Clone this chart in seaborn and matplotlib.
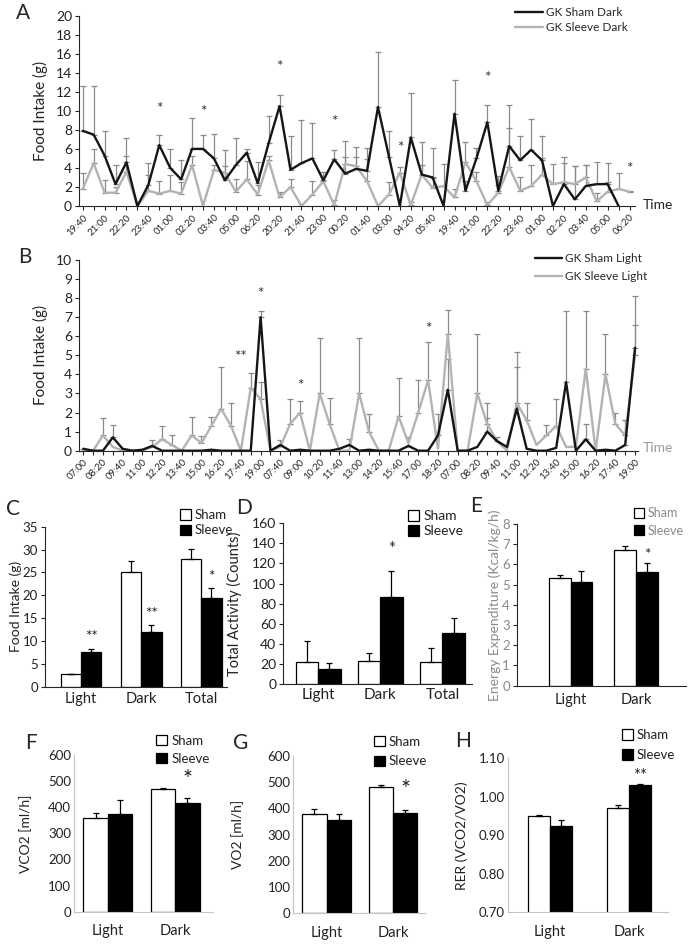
import numpy as np
import pandas as pd
import matplotlib
matplotlib.use("Agg")
import matplotlib.pyplot as plt
import seaborn as sns

nan = np.nan

# === Panel A: dark-phase food intake ===
a_labels = ["19:40", "21:00", "22:20", "23:40", "01:00", "02:20", "03:40", "05:00", "06:20",
            "20:20", "21:40", "23:00", "00:20", "01:40", "03:00", "04:20", "05:40",
            "19:40", "21:00", "22:20", "23:40", "01:00", "02:20", "03:40", "05:00", "06:20"]
a_sham = [7.9, 7.5, 5.3, 2.3, 4.6, 0, 2.2, 6.4, 4.0, 2.8, 6.0, 6.0, 5.0, 2.7, 4.3, 5.6, 2.4,
          6.6, 10.5, 3.8, 4.5, 5.0, 2.7, 4.9, 3.4, 3.9, 3.7, 10.4, 5.2, 0, 7.2, 3.3, 3.0, 0,
          9.7, 1.6, 5.0, 8.8, 1.6, 6.3, 4.8, 5.9, 4.8, 0, 2.3, 0.7, 2.1, 2.3, 2.3, 0, nan]
a_sham_err = [4.7, 5.1, 2.6, 2.0, 2.5, 0, 2.3, 1.1, 2.0, 2.0, 3.2, 1.5, 2.6, 3.2, 2.8, 0.4, 2.2,
              2.9, 1.2, 3.6, 4.5, 3.7, 0.9, 1.0, 3.4, 2.3, 2.4, 5.8, 2.7, 0, 4.7, 3.4, 3.1, 0,
              3.5, 1.0, 1.1, 1.8, 1.6, 4.3, 2.6, 3.2, 2.6, 0, 2.9, 3.5, 2.2, 2.3, 2.2, 0, nan]
a_sleeve = [1.8, 4.5, 1.4, 1.4, 3.6, 0, 1.6, 1.3, 1.6, 1.3, 4.3, 0, 3.8, 3.5, 1.5, 2.8, 1.2,
            4.8, 0.9, 2.0, 0, 1.2, 2.6, 0.1, 4.4, 4.2, 2.6, 0, 1.2, 3.5, 0.1, 3.3, 1.9, 2.1,
            0.9, 4.6, 2.6, 0.1, 1.4, 4.1, 1.6, 2.1, 3.3, 2.3, 2.5, 2.3, 3.0, 0.5, 1.5, 1.8, 1.5]
a_sleeve_err = [1.7, 1.5, 1.3, 0.6, 1.7, 0, 1.7, 1.3, 1.7, 1.2, 1.0, 0, 0.5, 0.7, 1.3, 1.9, 1.0,
                0.5, 0.6, 0.8, 0, 1.4, 1.0, 0.5, 0.7, 0.9, 2.3, 0, 1.3, 0.6, 0.3, 1.0, 1.0, 2.3,
                0.9, 2.1, 1.0, 0.3, 0.8, 4.1, 1.4, 2.2, 1.7, 2.1, 2.0, 1.9, 1.3, 0.9, 1.0, 1.7, 0.1]
a_star_idx = [7, 11, 18, 23, 29, 37, 50]
a_star_y = [10.2, 9.9, 14.6, 8.8, 6.1, 13.4, 3.9]

# === Panel B: light-phase food intake ===
b_labels = ["07:00", "08:20", "09:40", "11:00", "12:20", "13:40", "15:00", "16:20", "17:40", "19:00",
            "07:40", "09:00", "10:20", "11:40", "13:00", "14:20", "15:40", "17:00", "18:20",
            "07:00", "08:20", "09:40", "11:00", "12:20", "13:40", "15:00", "16:20", "17:40", "19:00"]
b_sham = [0.1, 0, 0, 0.7, 0.1, 0, 0.05, 0.25, 0, 0, 0, 0, 0, 0.05, 0, 0, 0, 0, 7.0, 0,
          0.3, 0, 0.05, 0, 0, 0, 0.1, 0.3, 0, 0.05, 0, 0, 0, 0.25, 0, 0, 0.8, 3.2, 0, 0,
          0.2, 1.0, 0.5, 0.2, 2.2, 0.1, 0, 0, 0.15, 3.6, 0, 0.6, 0, 0.05, 0, 0.3, 5.4]
b_sham_err = [0, 0, 0, 0.65, 0, 0, 0, 0.3, 0, 0, 0, 0, 0, 0, 0, 0, 0, 0, 0.3, 0,
              0.25, 0, 0, 0, 0, 0, 0, 0.3, 0, 0, 0, 0, 0, 0.45, 0, 0, 1.1, 1.6, 0, 0,
              0, 0.7, 0.2, 0, 2.2, 0, 0, 0, 0, 3.7, 0, 0.8, 0, 0, 0, 1.3, 1.2]
b_sleeve = [0, 0, 0.8, 0.2, 0, 0, 0, 0.2, 0.6, 0.3, 0, 0.8, 0.4, 1.3, 2.2, 1.3, 0, 3.3, 2.7, 0,
            0.2, 1.4, 2.0, 0, 3.0, 1.4, 0, 0, 3.0, 1.0, 0, 0, 1.8, 0.4, 2.0, 3.7, 0.1, 6.1, 0, 0,
            3.0, 1.4, 0.5, 0, 2.5, 1.6, 0.3, 0.8, 1.3, 0.2, 0.2, 4.3, 0, 4.0, 1.4, 0.8, 5.0]
b_sleeve_err = [0.1, 0, 0.9, 0, 0, 0, 0, 0, 0.7, 0.5, 0, 0.95, 0.35, 0.45, 2.2, 1.2, 0, 0.8, 0.9, 0,
                0, 1.3, 0.6, 0, 2.9, 1.35, 0, 0, 2.9, 0.9, 0, 0, 2.0, 0, 1.7, 2.0, 0, 1.3, 0, 0,
                3.1, 1.1, 0, 0, 2.7, 0.9, 0, 0.55, 1.4, 0, 0, 3.0, 0, 2.1, 0.6, 0.8, 3.1]
b_star_idx = [16, 18, 22, 35]
b_star_txt = ["**", "*", "*", "*"]
b_star_y = [4.9, 8.2, 3.4, 6.4]

# === Bar panels C-H ===
c_cats = ["Light", "Dark", "Total"]
c_sham, c_sham_err = [2.7, 25.2, 27.9], [0.1, 2.4, 2.2]
c_sleeve, c_sleeve_err = [7.5, 12.0, 19.5], [0.8, 1.6, 2.1]
c_stars, c_star_y = ["**", "**", "*"], [10.9, 16.0, 24.1]

d_cats = ["Light", "Dark", "Total"]
d_sham, d_sham_err = [21.6, 22.9, 22.2], [20.9, 8.3, 14.0]
d_sleeve, d_sleeve_err = [14.9, 87.0, 51.1], [6.3, 25.9, 14.3]
d_stars, d_star_y = ["", "*", ""], [0, 134, 0]

e_cats = ["Light", "Dark"]
e_sham, e_sham_err = [5.31, 6.72], [0.17, 0.21]
e_sleeve, e_sleeve_err = [5.12, 5.63], [0.56, 0.43]
e_stars, e_star_y = ["", "*"], [0, 6.47]

f_cats = ["Light", "Dark"]
f_sham, f_sham_err = [360, 470], [18, 5]
f_sleeve, f_sleeve_err = [374, 415], [54, 19]
f_stars, f_star_y = ["", "*"], [0, 508]

g_cats = ["Light", "Dark"]
g_sham, g_sham_err = [377, 483], [19, 6]
g_sleeve, g_sleeve_err = [356, 381], [21, 13]
g_stars, g_star_y = ["", "*"], [0, 473]

h_cats = ["Light", "Dark"]
h_sham, h_sham_err = [0.950, 0.972], [0.003, 0.008]
h_sleeve, h_sleeve_err = [0.923, 1.031], [0.016, 0.003]
h_stars, h_star_y = ["", "**"], [0, 1.054]

sns.set_theme(style="ticks")
plt.rcParams["font.family"] = ["Lato", "DejaVu Sans"]
plt.rcParams["axes.linewidth"] = 0.8

W, H = 688, 944
fig = plt.figure(figsize=(W / 100, H / 100), dpi=100)


def add_ax(l, r, t, b):
    return fig.add_axes([l / W, 1 - b / H, (r - l) / W, (b - t) / H])


def letter(txt, x, y):
    fig.text(x / W, 1 - y / H, txt, fontsize=15, va="top", ha="left")


def line_panel(ax, sham, sham_err, sleeve, sleeve_err, labels, names, ymax, ystep, xlim):
    n = len(sham)
    x = np.arange(n)
    for vals, errs in [(sleeve, sleeve_err), (sham, sham_err)]:
        v = np.array(vals, float)
        e = np.array(errs, float)
        m = np.nan_to_num(e) > 0
        ax.errorbar(x[m], v[m], yerr=[np.zeros(m.sum()), e[m]], fmt="none",
                    ecolor="#8a8a8a", elinewidth=0.9, capsize=2, capthick=0.9, zorder=1)
    sns.lineplot(x=x, y=np.array(sleeve, float), ax=ax, color="#b3b3b3", lw=1.7,
                 label=names[1], zorder=2)
    sns.lineplot(x=x, y=np.array(sham, float), ax=ax, color="#151515", lw=1.7,
                 label=names[0], zorder=3)
    ax.set_xlim(*xlim)
    ax.set_ylim(0, ymax)
    ax.set_yticks(np.arange(0, ymax + 0.01, ystep))
    ax.tick_params(axis="y", labelsize=10, length=3, width=0.8, pad=2, labelcolor="#222222")
    ax.set_xticks(np.arange(0, n, 2))
    ax.set_xticklabels(labels, rotation=45, ha="right", rotation_mode="anchor", fontsize=7,
                       color="#222222")
    ax.set_xticks(np.arange(n), minor=True)
    ax.tick_params(axis="x", which="both", length=3, width=0.8, pad=2)
    ax.set_xlabel("")
    ax.set_ylabel("Food Intake (g)", fontsize=11, color="#222222")
    ax.yaxis.set_label_coords(-0.056, 0.5)
    sns.despine(ax=ax)


def bar_panel(ax, cats, sham, sham_err, sleeve, sleeve_err, width, xlim, ylim, ystep,
              stars, star_y, star_size, ylabel, label_x, leg_xy, leg_sp, fs=10,
              gray_axes=False, fmt=None, text_col="#222222", xpad=4, leg_fs=None):
    df = pd.DataFrame({
        "cat": cats + cats,
        "group": ["Sham"] * len(cats) + ["Sleeve"] * len(cats),
        "val": sham + sleeve,
    })
    sns.barplot(data=df, x="cat", y="val", hue="group", order=cats,
                palette={"Sham": "white", "Sleeve": "black"}, edgecolor="black",
                linewidth=0.9, width=width, errorbar=None, ax=ax, zorder=2)
    for cont, errs in zip(ax.containers, [sham_err, sleeve_err]):
        xs = [p.get_x() + p.get_width() / 2 for p in cont]
        hs = [p.get_height() for p in cont]
        ax.errorbar(xs, hs, yerr=[np.zeros(len(errs)), errs], fmt="none", ecolor="black",
                    elinewidth=0.9, capsize=2.5, capthick=0.9, zorder=3)
    sl = ax.containers[1]
    for p, s, y in zip(sl, stars, star_y):
        if s:
            ax.text(p.get_x() + p.get_width() / 2, y, s, ha="center", va="center",
                    fontsize=star_size, color="#222222")
    ax.set_xlim(*xlim)
    ax.set_ylim(*ylim)
    ax.set_yticks(np.arange(ylim[0], ylim[1] + ystep / 100, ystep))
    if fmt:
        ax.set_yticklabels([fmt % t for t in ax.get_yticks()])
    ax.set_xlabel("")
    ax.set_ylabel(ylabel, fontsize=fs + 0.5, color=text_col)
    ax.yaxis.set_label_coords(label_x, 0.5)
    ax.tick_params(axis="x", length=0, labelsize=fs + 1, pad=xpad, labelcolor="#222222")
    ax.tick_params(axis="y", labelsize=fs, labelcolor=text_col, pad=2)
    sns.despine(ax=ax)
    if gray_axes:
        for sp in ["left", "bottom"]:
            ax.spines[sp].set_color("#c4c4c4")
        ax.tick_params(axis="y", length=0)
    else:
        ax.tick_params(axis="y", length=3, width=0.8)
    h, l = ax.get_legend_handles_labels()
    leg = ax.legend(h, l, loc="upper left", bbox_to_anchor=leg_xy, frameon=False,
                    fontsize=leg_fs or fs, handlelength=0.85, handleheight=0.85,
                    handletextpad=0.3, labelspacing=leg_sp, borderpad=0, borderaxespad=0)
    for t in leg.get_texts():
        t.set_color(text_col)


# --- A ---
axA = add_ax(79, 635, 15.7, 206)
line_panel(axA, a_sham, a_sham_err, a_sleeve, a_sleeve_err, a_labels,
           ["GK Sham Dark", "GK Sleeve Dark"], 20, 2, (-0.34, 50.5))
for i, y in zip(a_star_idx, a_star_y):
    axA.text(i, y, "*", ha="center", va="center", fontsize=11, color="#333333")
h, l = axA.get_legend_handles_labels()
axA.legend(h[::-1], l[::-1], loc="upper left", bbox_to_anchor=(0.785, 1.045), frameon=False,
           fontsize=8.5, handlelength=2.3, handletextpad=0.25, labelspacing=0.35,
           borderpad=0, borderaxespad=0)
fig.text(643 / W, 1 - 205 / H, "Time", fontsize=10, va="center", color="#222222")
letter("A", 16, 3)

# --- B ---
axB = add_ax(79, 638, 260, 450.7)
line_panel(axB, b_sham, b_sham_err, b_sleeve, b_sleeve_err, b_labels,
           ["GK Sham Light", "GK Sleeve Light"], 10, 1, (-0.43, 56.3))
for i, s, y in zip(b_star_idx, b_star_txt, b_star_y):
    axB.text(i, y, s, ha="center", va="center", fontsize=11, color="#333333")
h, l = axB.get_legend_handles_labels()
axB.legend(h[::-1], l[::-1], loc="upper left", bbox_to_anchor=(0.815, 1.035), frameon=False,
           fontsize=8.5, handlelength=2.3, handletextpad=0.25, labelspacing=0.55,
           borderpad=0, borderaxespad=0)
fig.text(643 / W, 1 - 448 / H, "Time", fontsize=10, va="center", color="#9a9a9a")
letter("B", 18, 247)

# --- C ---
axC = add_ax(45, 227, 526.7, 686.7)
bar_panel(axC, c_cats, c_sham, c_sham_err, c_sleeve, c_sleeve_err, 0.68, (-0.6, 2.43),
          (0, 35), 5, c_stars, c_star_y, 11, "Food Intake (g)", -0.125, (0.74, 1.11), 0.25,
          fs=9.5, xpad=4)
axC.yaxis.label.set_size(10)
letter("C", 6, 499)

# --- D ---
axD = add_ax(283.3, 471.7, 523.3, 684)
bar_panel(axD, d_cats, d_sham, d_sham_err, d_sleeve, d_sleeve_err, 0.72, (-0.56, 2.47),
          (0, 160), 20, d_stars, d_star_y, 12, "Total Activity (Counts)", -0.22,
          (0.66, 1.085), 0.2, xpad=3)
letter("D", 236, 498)

# --- E ---
axE = add_ax(516.7, 686, 524, 685.7)
bar_panel(axE, e_cats, e_sham, e_sham_err, e_sleeve, e_sleeve_err, 0.66, (-0.82, 1.76),
          (0, 8), 1, e_stars, e_star_y, 11, "Energy Expenditure (Kcal/kg/h)", -0.09,
          (0.69, 1.105), 0.45, fs=9.5, text_col="#8a8a8a", xpad=5, leg_fs=9)
letter("E", 470, 496)

# --- F ---
axF = add_ax(74, 213, 755, 911.7)
bar_panel(axF, f_cats, f_sham, f_sham_err, f_sleeve, f_sleeve_err, 0.72, (-0.5, 1.56),
          (0, 600), 100, f_stars, f_star_y, 17, "VCO2 [ml/h]", -0.30, (0.59, 1.13), 0.45,
          fs=9.5, gray_axes=True, xpad=9)
letter("F", 25, 733)

# --- G ---
axG = add_ax(293.3, 425, 756, 913.3)
bar_panel(axG, g_cats, g_sham, g_sham_err, g_sleeve, g_sleeve_err, 0.73, (-0.5, 1.48),
          (0, 600), 100, g_stars, g_star_y, 17, "VO2 [ml/h]", -0.375, (0.61, 1.13), 0.6,
          fs=9.5, gray_axes=True, xpad=9)
letter("G", 233, 733)

# --- H ---
axH = add_ax(507.7, 668, 758.3, 912.3)
bar_panel(axH, h_cats, h_sham, h_sham_err, h_sleeve, h_sleeve_err, 0.56, (-0.535, 1.49),
          (0.70, 1.10), 0.10, h_stars, h_star_y, 12, "RER (VCO2/VO2)", -0.245,
          (0.71, 1.19), 0.6, fs=9.5, gray_axes=True, fmt="%.2f", xpad=9)
letter("H", 455, 731)

fig.savefig("out.png", dpi=100, facecolor="white")
